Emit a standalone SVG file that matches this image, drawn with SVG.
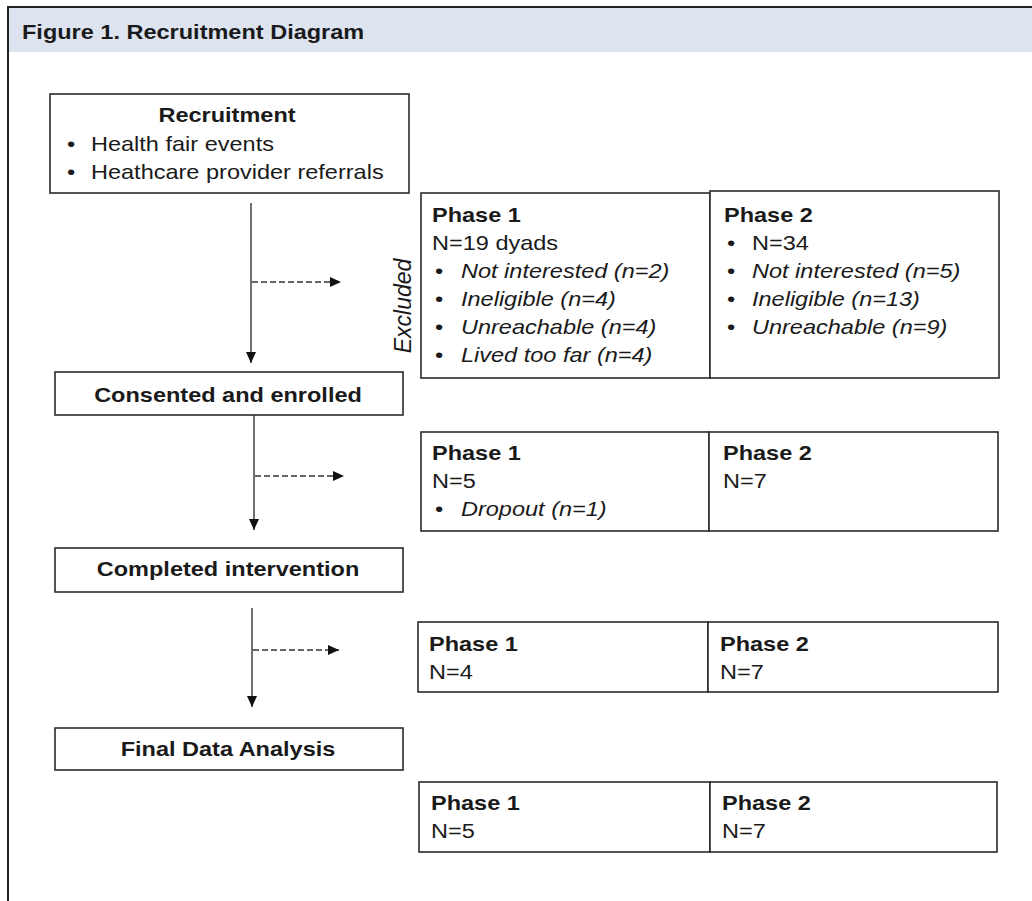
<svg xmlns="http://www.w3.org/2000/svg" width="1032" height="901" viewBox="0 0 1032 901">
<defs>
<style>
.frame{fill:none;stroke:#222;stroke-width:2}
.box{fill:#fff;stroke:#2a2a2a;stroke-width:1.6}
text{font-family:"Liberation Sans",Arial,sans-serif;font-size:21px;fill:#1a1a1a}
.b{font-weight:bold}
.i{font-style:italic}
.solid{stroke:#333;stroke-width:1.4;fill:none}
.dash{stroke:#666;stroke-width:2;stroke-dasharray:6 3;fill:none}
</style>
<marker id="ah" markerUnits="userSpaceOnUse" markerWidth="11" markerHeight="10" refX="11" refY="5" orient="auto">
<path d="M0,0 L11,5 L0,10 z" fill="#111"/>
</marker>
</defs>
<rect x="0" y="0" width="1032" height="901" fill="#fff"/>
<rect x="9" y="8" width="1023" height="44" fill="#dde4f0"/>
<path class="frame" d="M8,901 V7 H1032"/>
<text class="b" transform="translate(22,39) scale(1.12,1)">Figure 1. Recruitment Diagram</text>

<g id="recruitment">
<rect class="box" x="50" y="94" width="359" height="99"/>
<text class="b" text-anchor="middle" transform="translate(227,122) scale(1.12,1)">Recruitment</text>
<text transform="translate(67,151) scale(1.12,1)">•</text>
<text transform="translate(91,151) scale(1.12,1)">Health fair events</text>
<text transform="translate(67,179) scale(1.12,1)">•</text>
<text transform="translate(91,179) scale(1.12,1)">Heathcare provider referrals</text>
</g>

<g id="consented">
<rect class="box" x="55" y="372" width="348" height="43"/>
<text class="b" text-anchor="middle" transform="translate(228,402) scale(1.12,1)">Consented and enrolled</text>
</g>

<g id="completed">
<rect class="box" x="55" y="548" width="348" height="44"/>
<text class="b" text-anchor="middle" transform="translate(228,576) scale(1.12,1)">Completed intervention</text>
</g>

<g id="final">
<rect class="box" x="55" y="728" width="348" height="42"/>
<text class="b" text-anchor="middle" transform="translate(228,756) scale(1.12,1)">Final Data Analysis</text>
</g>

<g id="excluded-label">
<text class="i" font-size="23" text-anchor="middle" transform="translate(411,306) rotate(-90)" style="font-size:23px">Excluded</text>
</g>

<g id="row1">
<rect class="box" x="421" y="193" width="289" height="185"/>
<rect class="box" x="710" y="191" width="289" height="187"/>
<text class="b" transform="translate(432,222) scale(1.12,1)">Phase 1</text>
<text transform="translate(432,250) scale(1.12,1)">N=19 dyads</text>
<text transform="translate(435,278) scale(1.12,1)">•</text>
<text class="i" transform="translate(461,278) scale(1.12,1)">Not interested (n=2)</text>
<text transform="translate(435,306) scale(1.12,1)">•</text>
<text class="i" transform="translate(461,306) scale(1.12,1)">Ineligible (n=4)</text>
<text transform="translate(435,334) scale(1.12,1)">•</text>
<text class="i" transform="translate(461,334) scale(1.12,1)">Unreachable (n=4)</text>
<text transform="translate(435,362) scale(1.12,1)">•</text>
<text class="i" transform="translate(461,362) scale(1.12,1)">Lived too far (n=4)</text>
<text class="b" transform="translate(724,222) scale(1.12,1)">Phase 2</text>
<text transform="translate(727,250) scale(1.12,1)">•</text>
<text transform="translate(752,250) scale(1.12,1)">N=34</text>
<text transform="translate(727,278) scale(1.12,1)">•</text>
<text class="i" transform="translate(752,278) scale(1.12,1)">Not interested (n=5)</text>
<text transform="translate(727,306) scale(1.12,1)">•</text>
<text class="i" transform="translate(752,306) scale(1.12,1)">Ineligible (n=13)</text>
<text transform="translate(727,334) scale(1.12,1)">•</text>
<text class="i" transform="translate(752,334) scale(1.12,1)">Unreachable (n=9)</text>
</g>

<g id="row2">
<rect class="box" x="421" y="432" width="288" height="99"/>
<rect class="box" x="709" y="432" width="289" height="99"/>
<text class="b" transform="translate(432,460) scale(1.12,1)">Phase 1</text>
<text transform="translate(432,488) scale(1.12,1)">N=5</text>
<text transform="translate(435,516) scale(1.12,1)">•</text>
<text class="i" transform="translate(461,516) scale(1.12,1)">Dropout (n=1)</text>
<text class="b" transform="translate(723,460) scale(1.12,1)">Phase 2</text>
<text transform="translate(723,488) scale(1.12,1)">N=7</text>
</g>

<g id="row3">
<rect class="box" x="418" y="622" width="290" height="70"/>
<rect class="box" x="708" y="622" width="290" height="70"/>
<text class="b" transform="translate(429,651) scale(1.12,1)">Phase 1</text>
<text transform="translate(429,679) scale(1.12,1)">N=4</text>
<text class="b" transform="translate(720,651) scale(1.12,1)">Phase 2</text>
<text transform="translate(720,679) scale(1.12,1)">N=7</text>
</g>

<g id="row4">
<rect class="box" x="419" y="782" width="291" height="70"/>
<rect class="box" x="710" y="782" width="287" height="70"/>
<text class="b" transform="translate(431,810) scale(1.12,1)">Phase 1</text>
<text transform="translate(431,838) scale(1.12,1)">N=5</text>
<text class="b" transform="translate(722,810) scale(1.12,1)">Phase 2</text>
<text transform="translate(722,838) scale(1.12,1)">N=7</text>
</g>

<g id="connectors">
<line class="solid" x1="251" y1="203" x2="251" y2="363" marker-end="url(#ah)"/>
<line class="dash" x1="252" y1="282" x2="341" y2="282" marker-end="url(#ah)"/>
<line class="solid" x1="254" y1="415" x2="254" y2="530" marker-end="url(#ah)"/>
<line class="dash" x1="255" y1="476" x2="344" y2="476" marker-end="url(#ah)"/>
<line class="solid" x1="252" y1="608" x2="252" y2="707" marker-end="url(#ah)"/>
<line class="dash" x1="253" y1="650" x2="339" y2="650" marker-end="url(#ah)"/>
</g>
</svg>
